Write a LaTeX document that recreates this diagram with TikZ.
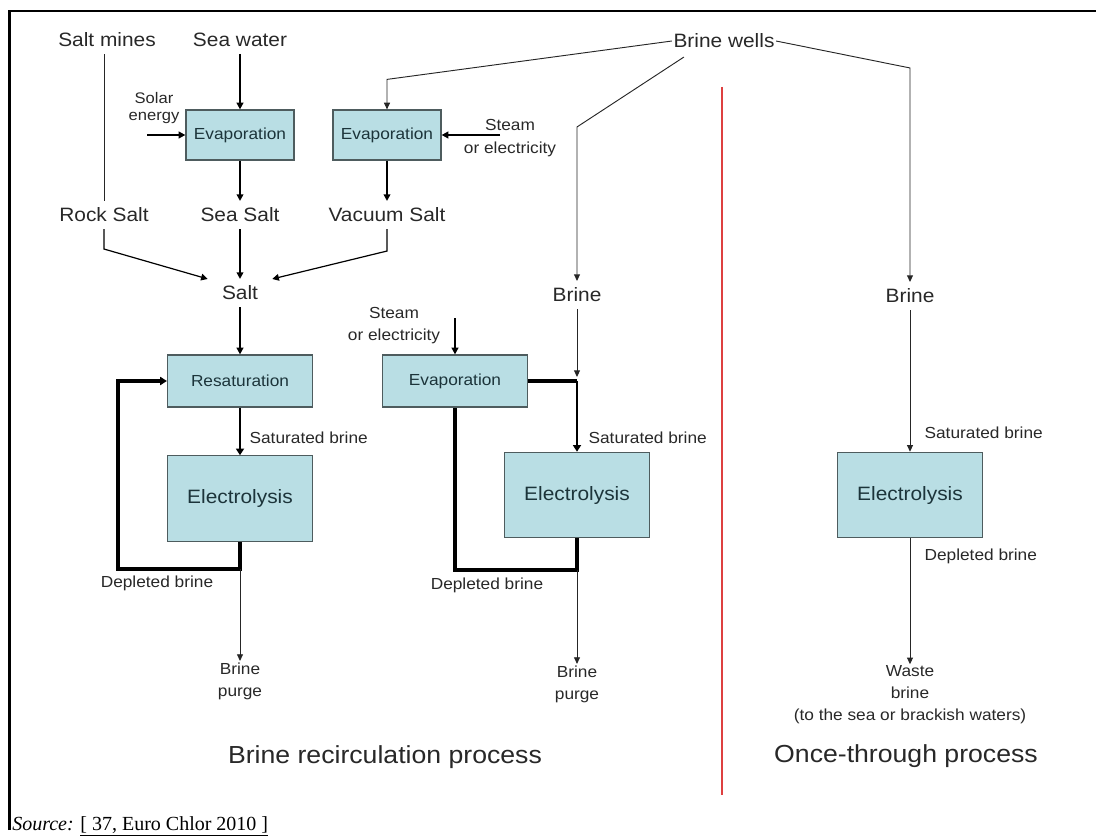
\documentclass[tikz,border=0pt]{standalone}
\usepackage{fontspec}
\setmainfont{Liberation Serif}
\newfontfamily\diagfont[FakeStretch=1.08]{Liberation Sans}
\usetikzlibrary{calc,arrows.meta}
\definecolor{boxFill}{RGB}{185,222,228}
\definecolor{boxEdge}{RGB}{78,92,94}
\definecolor{boxInk}{RGB}{28,52,58}
\definecolor{labelInk}{RGB}{40,40,40}
\definecolor{dividerRed}{RGB}{222,64,64}

\begin{document}
\begin{tikzpicture}[x=0.75pt,y=-0.75pt,
  flowText/.style={text=labelInk,inner xsep=1pt,inner ysep=5pt,font=\diagfont\fontsize{14.5}{17}\selectfont},
  smallText/.style={text=labelInk,inner sep=1pt,align=center,font=\diagfont\fontsize{12}{16.5}\selectfont},
  procBox/.style={draw=boxEdge,line width=0.9pt,fill=boxFill,text=boxInk,inner sep=0pt,minimum width=108.75pt,minimum height=39pt,font=\diagfont\fontsize{12}{14}\selectfont},
  bigBox/.style={procBox,minimum height=64pt,font=\diagfont\fontsize{14.5}{17}\selectfont},
  thinLine/.style={draw=black!85,line width=0.7pt},
  thinArrow/.style={thinLine,-{Triangle[length=5pt,width=4.5pt]}},
  midArrow/.style={draw=black,line width=1.3pt,-{Triangle[length=5pt,width=5pt]}},
  thickArrow/.style={draw=black,line width=2pt,-{Triangle[length=5pt,width=6pt]}},
  thickLine/.style={draw=black,line width=2.8pt}]
\useasboundingbox (0,0) rectangle (1096,838);
\draw[line width=1.6pt] (9.5,830) -- (9.5,11) -- (1096,11);

% sources
\node[flowText] (saltMines) at (107,40) {Salt mines};
\node[flowText] (seaWater) at (240,40) {Sea water};
\node[flowText] (brineWells) at (724,41) {Brine wells};
\node[smallText,font=\diagfont\fontsize{11.5}{12.75}\selectfont] (solarEnergy) at (154,108) {Solar\\energy};
\node[smallText,font=\diagfont\fontsize{12}{17}\selectfont] (steamTop) at (510,138) {Steam\\or electricity};

% salt production
\node[procBox,minimum width=81pt,minimum height=37.5pt] (evapSea) at (240,135) {Evaporation};
\node[procBox,minimum width=81pt,minimum height=37.5pt] (evapVac) at (387,135) {Evaporation};
\node[flowText] (rockSalt) at (104,215) {Rock Salt};
\node[flowText] (seaSalt) at (240,215) {Sea Salt};
\node[flowText] (vacuumSalt) at (387,215) {Vacuum Salt};
\node[flowText,inner xsep=10.5pt] (salt) at (240,293) {Salt};
\node[flowText] (brineMid) at (577,295) {Brine};
\node[flowText] (brineRight) at (910,296) {Brine};
\node[smallText] (steamMid) at (394,326) {Steam\\or electricity};

% process blocks
\node[procBox] (resat) at (240,381) {Resaturation};
\node[procBox] (evapMid) at (455,381) {Evaporation};
\node[bigBox] (elecOne) at (240,498.5) {Electrolysis};
\node[bigBox] (elecTwo) at (577,495) {Electrolysis};
\node[bigBox] (elecThree) at (910,495) {Electrolysis};

% stream labels
\node[smallText,anchor=west] (satOne) at (248,438) {Saturated brine};
\node[smallText,anchor=west] (satTwo) at (587,438) {Saturated brine};
\node[smallText,anchor=west] (satThree) at (923,433) {Saturated brine};
\node[smallText] (depOne) at (157,583) {Depleted brine};
\node[smallText] (depTwo) at (487,585) {Depleted brine};
\node[smallText,anchor=west] (depThree) at (923,556) {Depleted brine};
\node[smallText] (purgeOne) at (240,681) {Brine\\purge};
\node[smallText] (purgeTwo) at (577,684) {Brine\\purge};
\node[smallText] (wasteBrine) at (910,695) {Waste\\brine\\(to the sea or brackish waters)};

% process names
\node[text=labelInk,font=\diagfont\fontsize{18.5}{22}\selectfont] (recircProc) at (385,757) {Brine recirculation process};
\node[text=labelInk,font=\diagfont\fontsize{18.5}{22}\selectfont] (onceProc) at (906,756) {Once-through process};
\node[anchor=base west,inner sep=0pt,font=\fontsize{15}{17}\selectfont] (source) at (12,830) {\textit{Source:} \underline{[ 37, Euro Chlor 2010 ]}};

% divider
\draw[dividerRed,line width=1.2pt] (722,87) -- (722,795);

% connectors, salt side
\coordinate (solarTail) at ($(solarEnergy.south)+(-7,0)$);
\coordinate (steamTail) at ($(steamTop.center)+(-10,-3)$);
\draw[thinLine] (saltMines.south -| rockSalt.north) -- (rockSalt.north);
\draw[midArrow] (seaWater) -- (evapSea);
\draw[midArrow] (solarTail |- evapSea.west) -- (evapSea.west);
\draw[midArrow] (evapSea) -- (seaSalt);
\draw[midArrow] (evapVac) -- (vacuumSalt);
\draw[midArrow] (steamTail) -- (evapVac.east);
\draw[thinArrow] (brineWells.west) -- ($(evapVac.north)+(0,-30)$) -- (evapVac.north);
\draw[midArrow,line width=0.9pt] (rockSalt.south) -- ++(0,20) -- (salt.north west);
\draw[midArrow] (seaSalt) -- (salt);
\draw[midArrow,line width=0.9pt] (vacuumSalt.south) -- ++(0,22) -- (salt.north east);

% connectors, brine wells
\draw[thinArrow] ($(brineWells.south west)+(12,2)$) -- ($(brineMid.north)+(0,-154)$) -- (brineMid.north);
\draw[thinArrow] (brineWells.east) -- ($(brineRight.north)+(0,-214)$) -- (brineRight.north);

% recirculation with resaturation
\draw[midArrow] (salt) -- (resat);
\draw[thickArrow] (resat) -- (elecOne);
\draw[thickLine,-{Triangle[length=5pt,width=6pt]}] (elecOne.south) |- ++(-122,27) |- (resat.west);
\draw[thinArrow] ($(elecOne.south)+(0,27)$) -- (purgeOne.north);

% recirculation with evaporation
\coordinate (junction) at (brineMid.south |- evapMid.east);
\draw[midArrow] ($(steamMid.east -| evapMid.north)+(0,-8)$) -- (evapMid.north);
\draw[thinArrow,shorten >=3pt] (brineMid) -- (junction);
\draw[thickLine] (evapMid.east) -- (junction);
\draw[thickArrow] (junction) -- (elecTwo.north);
\draw[thickLine] (elecTwo.south) -- ++(0,32) -| (evapMid.south);
\draw[thinArrow] ($(elecTwo.south)+(0,32)$) -- (purgeTwo.north);

% once-through
\draw[thinArrow] (brineRight) -- (elecThree);
\draw[thinArrow] (elecThree) -- (wasteBrine);
\end{tikzpicture}
\end{document}
